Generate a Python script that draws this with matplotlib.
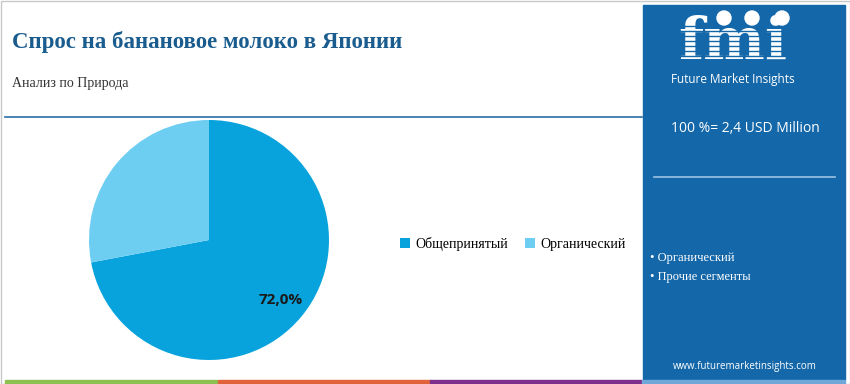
import matplotlib.pyplot as plt
from matplotlib.patches import Rectangle, Ellipse

# data
categories = ['Общепринятый', 'Органический']
shares = [72.0, 28.0]
colors = ['#08a3dc', '#6dcef2']
title = 'Спрос на банановое молоко в Японии'
subtitle = 'Анализ по Природа'
total_note = '100 %= 2,4 USD Million'
side_items = ['Органический', 'Прочие сегменты']

W, H = 850, 384
fig = plt.figure(figsize=(W / 100, H / 100), dpi=100)


def fx(x):
    return x / W


def fy(y):
    return 1 - y / H


def rect(x0, y0, x1, y1, **kw):
    fig.patches.append(Rectangle((fx(x0), fy(y1)), fx(x1 - x0), (y1 - y0) / H,
                                 transform=fig.transFigure, **kw))


serif = 'Liberation Serif'
sans = 'Open Sans'
panel = '#1467a9'

# outer border
rect(0.5, 0.5, W - 0.5, H - 0.5, fill=False, edgecolor='#c8c8c8', lw=1)

# title block
fig.text(fx(12), fy(42), title, fontsize=16.5, fontweight='bold', color='#1a5c8e',
         family=serif, va='center', ha='left')
fig.text(fx(12), fy(84), subtitle, fontsize=10, color='#333333',
         family=serif, va='center', ha='left')
fig.add_artist(plt.Line2D([fx(5), fx(642)], [fy(117), fy(117)], color='#2a6fa8',
                          lw=1.2, transform=fig.transFigure))

# right panel
rect(643, 5, 845, 380, color=panel)
fig.text(fx(733), fy(43), 'fmi', fontsize=42, fontweight='bold', color='white',
         family='DejaVu Serif', ha='center', va='center')
for yy in range(26, 64, 5):
    fig.add_artist(plt.Line2D([fx(668), fx(800)], [fy(yy), fy(yy)], color=panel,
                              lw=1.0, transform=fig.transFigure, zorder=4))
for cx in (724, 752, 782):
    fig.add_artist(Ellipse((fx(cx), fy(18)), 14 / W, 14 / H,
                           transform=fig.transFigure, color='white', zorder=5))
fig.text(fx(733), fy(79), 'Future Market Insights', fontsize=8.5, color='white',
         family=sans, ha='center', va='center')
fig.text(fx(745), fy(128), total_note, fontsize=10, color='white',
         family=sans, ha='center', va='center')
fig.add_artist(plt.Line2D([fx(654), fx(835)], [fy(177), fy(177)], color='#9cc3e3',
                          lw=1.2, transform=fig.transFigure))
for i, item in enumerate(side_items):
    fig.text(fx(650), fy(258 + 19 * i), '• ' + item, fontsize=9, color='white',
             family=serif, ha='left', va='center')
fig.text(fx(745), fy(367), 'www.futuremarketinsights.com', fontsize=7,
         color='white', family=sans, ha='center', va='center')

# bottom colour strip
for x0, x1, c in [(5, 217, '#8cc152'), (218, 430, '#e0633c'),
                  (430, 642, '#7d2f8b'), (642, 845, '#6fa8d8')]:
    rect(x0, 380, x1, 384, color=c)

# pie
ax = fig.add_axes([fx(89), fy(360), 240 / W, 240 / H])
wedges, _, autotexts = ax.pie(shares, colors=colors, startangle=90, counterclock=False,
                              autopct='%1.1f%%', pctdistance=0.78,
                              wedgeprops=dict(linewidth=0))
for t, v in zip(autotexts, shares):
    t.set_text(f'{v:.1f}%'.replace('.', ',') if v > 50 else '')
    t.set_fontsize(11)
    t.set_fontweight('bold')
    t.set_family(sans)
    t.set_color('#1a1a1a')
ax.set_xlim(-1, 1)
ax.set_ylim(-1, 1)
ax.set_aspect('equal')

fig.legend(wedges, categories, loc='center', bbox_to_anchor=(fx(513), fy(244)),
           ncol=2, frameon=False, handlelength=0.7, handleheight=0.7,
           handletextpad=0.4, columnspacing=1.2,
           prop={'family': serif, 'size': 10})

fig.savefig('out.png', dpi=100)
